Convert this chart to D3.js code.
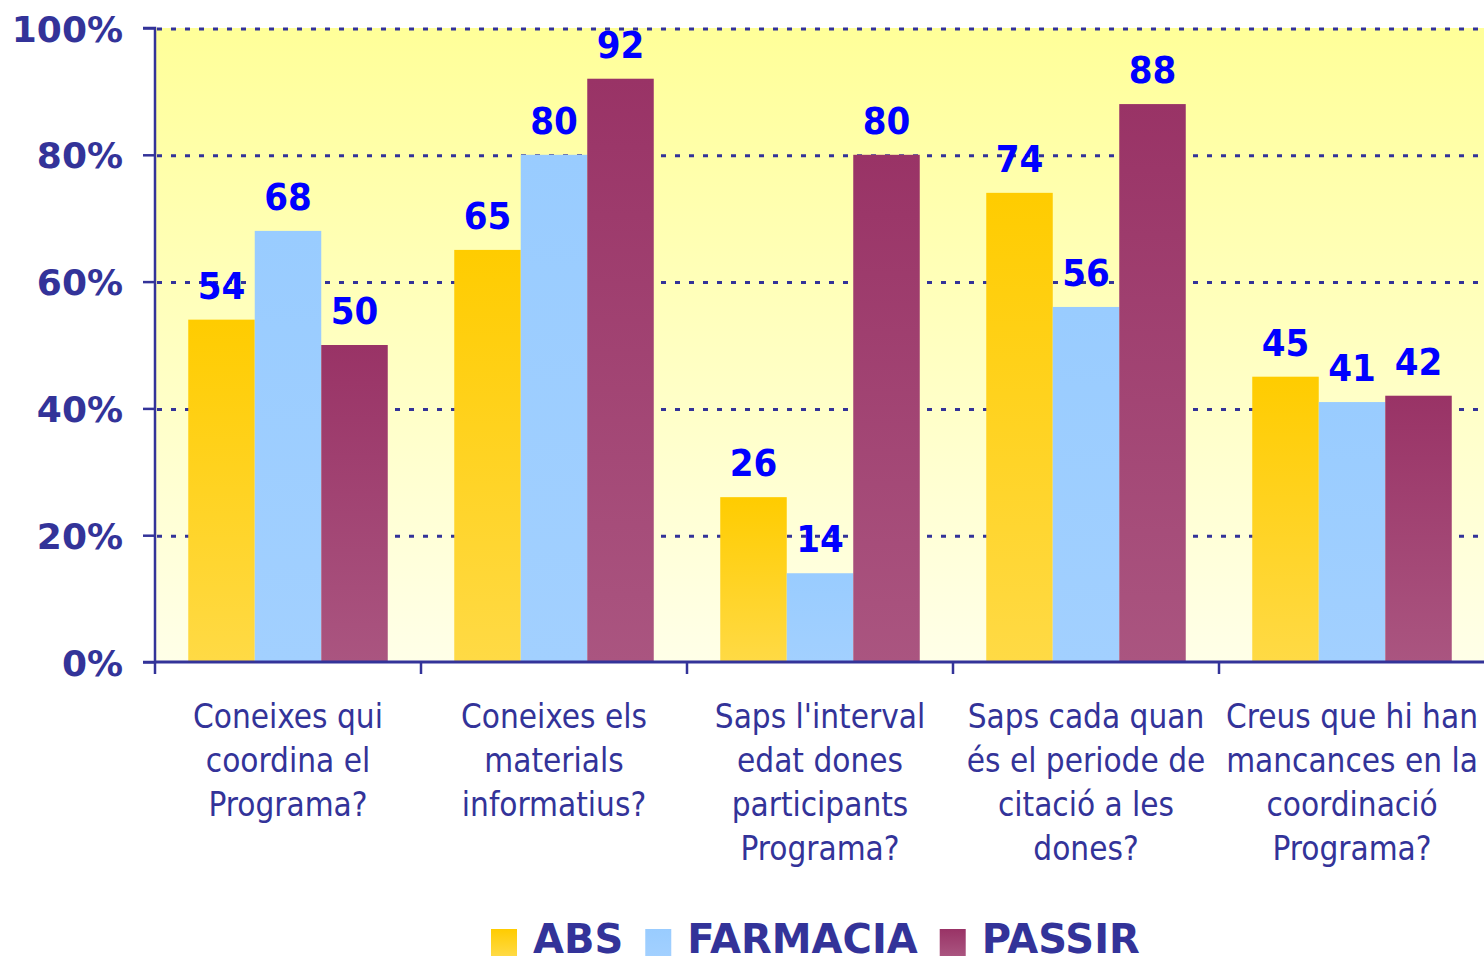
<!DOCTYPE html>
<html>
<head>
<meta charset="utf-8">
<script src="https://cdn.jsdelivr.net/npm/d3@7"></script>
<style>
  html, body { margin: 0; padding: 0; background: #ffffff; }
  svg { display: block; }
</style>
</head>
<body>
<svg id="chart" width="1484" height="963"></svg>
<script>
// ---- data ----
const categories = [
  ["Coneixes qui", "coordina el", "Programa?"],
  ["Coneixes els", "materials", "informatius?"],
  ["Saps l'interval", "edat dones", "participants", "Programa?"],
  ["Saps cada quan", "és el periode de", "citació a les", "dones?"],
  ["Creus que hi han", "mancances en la", "coordinació", "Programa?"]
];
const seriesNames = ["ABS", "FARMACIA", "PASSIR"];
const absValues = [54, 65, 26, 74, 45];
const farmaciaValues = [68, 80, 14, 56, 41];
const passirValues = [50, 92, 80, 88, 42];
const yTicks = [0, 20, 40, 60, 80, 100];

const seriesValues = [absValues, farmaciaValues, passirValues];
const colors = {
  ABS: ["#ffcc00", "#ffda45"],
  FARMACIA: ["#99ccff", "#a2d0ff"],
  PASSIR: ["#993366", "#aa5580"]
};
const navy = "#333399";

const svg = d3.select("#chart");
const defs = svg.append("defs");

const bg = defs.append("linearGradient").attr("id", "bg").attr("x1", 0).attr("y1", 0).attr("x2", 0).attr("y2", 1);
bg.append("stop").attr("offset", "0%").attr("stop-color", "#ffff99");
bg.append("stop").attr("offset", "100%").attr("stop-color", "#ffffe8");

seriesNames.forEach((s, i) => {
  const g = defs.append("linearGradient").attr("id", "grad" + i).attr("x1", 0).attr("y1", 0).attr("x2", 0).attr("y2", 1);
  g.append("stop").attr("offset", "0%").attr("stop-color", colors[s][0]);
  g.append("stop").attr("offset", "100%").attr("stop-color", colors[s][1]);
});

const pLeft = 155, pRight = 1485, pTop = 28, pBottom = 662;

const x0 = d3.scaleBand().domain(d3.range(categories.length)).range([pLeft, pRight]).paddingInner(0).paddingOuter(0);
const x1 = d3.scaleBand().domain(seriesNames).range([0, x0.bandwidth()]).paddingInner(0).paddingOuter(0.5);
const y = d3.scaleLinear().domain([0, 100]).range([pBottom, pTop]);

// plot background
svg.append("rect").attr("x", pLeft).attr("y", pTop).attr("width", pRight - pLeft).attr("height", pBottom - pTop)
  .attr("fill", "url(#bg)");

// gridlines
svg.append("g").selectAll("line").data(yTicks.filter(d => d > 0)).join("line")
  .attr("x1", pLeft + 2).attr("x2", pRight)
  .attr("y1", d => y(d) + 1).attr("y2", d => y(d) + 1)
  .attr("stroke", navy).attr("stroke-width", 3).attr("stroke-dasharray", "5,9");

// bars
const groups = svg.append("g").selectAll("g").data(categories).join("g")
  .attr("transform", (d, i) => `translate(${x0(i)},0)`);

groups.each(function(cat, ci) {
  const g = d3.select(this);
  seriesNames.forEach((s, si) => {
    const v = seriesValues[si][ci];
    g.append("rect")
      .attr("x", x1(s)).attr("width", x1.bandwidth())
      .attr("y", y(v)).attr("height", y(0) - y(v))
      .attr("fill", `url(#grad${si})`);
  });
});

// value labels
groups.each(function(cat, ci) {
  const g = d3.select(this);
  seriesNames.forEach((s, si) => {
    const v = seriesValues[si][ci];
    g.append("text")
      .attr("x", x1(s) + x1.bandwidth() / 2)
      .attr("y", y(v) - 21)
      .attr("text-anchor", "middle")
      .attr("font-family", "'DejaVu Sans Condensed', 'DejaVu Sans', sans-serif")
      .attr("font-stretch", "condensed")
      .attr("font-weight", "bold")
      .attr("font-size", 38)
      .attr("fill", "#0000ff")
      .text(v);
  });
});

// y axis
const yAxis = d3.axisLeft(y).tickValues(yTicks).tickSize(12).tickFormat(d => d + "%");
const ya = svg.append("g").attr("transform", `translate(${pLeft},0)`).call(yAxis);
ya.select(".domain").attr("stroke", navy).attr("stroke-width", 2.5).attr("d", `M-12,${pTop}H0V${pBottom}H-12`);
ya.selectAll(".tick line").attr("stroke", navy).attr("stroke-width", 2.5);
ya.selectAll(".tick text")
  .attr("x", -32).attr("dy", null).attr("y", 13)
  .attr("fill", navy)
  .attr("font-family", "'DejaVu Sans', sans-serif")
  .attr("font-weight", "bold")
  .attr("font-size", 36);

// x axis
const xAxis = d3.axisBottom(x0).tickSize(0).tickFormat("");
const xa = svg.append("g").attr("transform", `translate(0,${pBottom})`).call(xAxis);
xa.select(".domain").attr("stroke", navy).attr("stroke-width", 3).attr("d", `M${pLeft},0H${pRight}`);
xa.selectAll(".tick").remove();
// group boundary ticks
xa.append("g").selectAll("line").data(d3.range(categories.length)).join("line")
  .attr("x1", i => x0(i)).attr("x2", i => x0(i))
  .attr("y1", 0).attr("y2", 12)
  .attr("stroke", navy).attr("stroke-width", 2.5);

// category labels
const catLabels = svg.append("g").selectAll("text").data(categories).join("text")
  .attr("text-anchor", "middle")
  .attr("font-family", "'DejaVu Sans Condensed', 'DejaVu Sans', sans-serif")
  .attr("font-stretch", "condensed")
  .attr("font-size", 33)
  .attr("fill", navy)
  .attr("transform", (d, i) => `translate(${x0(i) + x0.bandwidth() / 2},728)`);
catLabels.each(function(lines) {
  d3.select(this).selectAll("tspan").data(lines).join("tspan")
    .attr("x", 0).attr("y", (d, j) => j * 44).text(d => d);
});

// legend
const legend = svg.append("g");
let lx = 491;
seriesNames.forEach((s, si) => {
  legend.append("rect").attr("x", lx).attr("y", 929).attr("width", 26).attr("height", 27)
    .attr("fill", `url(#grad${si})`);
  const t = legend.append("text").attr("x", lx + 42).attr("y", 953)
    .attr("font-family", "'DejaVu Sans', sans-serif")
    .attr("font-weight", "bold")
    .attr("font-size", 40)
    .attr("fill", navy)
    .text(s);
  lx = lx + 42 + t.node().getComputedTextLength() + 22;
});
</script>
</body>
</html>
